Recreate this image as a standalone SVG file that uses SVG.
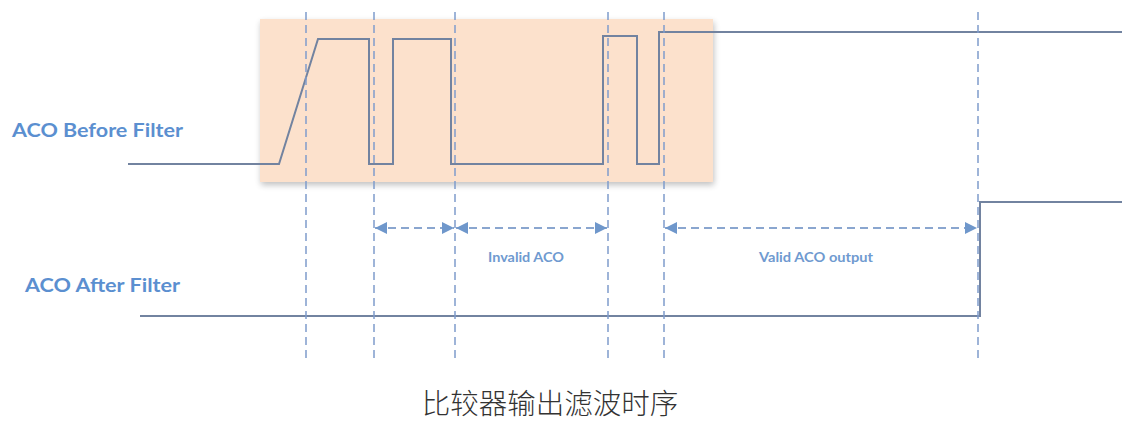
<svg xmlns="http://www.w3.org/2000/svg" width="1126" height="421" viewBox="0 0 1126 421">
<defs>
<filter id="sh" x="-5%" y="-10%" width="110%" height="125%">
<feGaussianBlur in="SourceAlpha" stdDeviation="3"/>
<feOffset dx="1" dy="3"/>
<feComponentTransfer><feFuncA type="linear" slope="0.25"/></feComponentTransfer>
<feMerge><feMergeNode/><feMergeNode in="SourceGraphic"/></feMerge>
</filter>
<marker id="ah" viewBox="0 0 10 10" refX="10" refY="5" markerWidth="12" markerHeight="12" markerUnits="userSpaceOnUse" orient="auto-start-reverse">
<path d="M0,0 L10,5 L0,10 Z" fill="#6f97cb"/>
</marker>
</defs>
<style>
.sig{fill:none;stroke:#7283a0;stroke-width:2}
.grid{stroke:#7f9ccc;stroke-width:1.5;stroke-dasharray:8 5}
.arr{stroke:#8aa6cf;stroke-width:2;stroke-dasharray:8 5;fill:none}
.lbl{font-family:Lato,"Open Sans",sans-serif;font-weight:bold;fill:#5b8fd0;font-size:19px}
.sm{font-family:Lato,"Open Sans",sans-serif;font-weight:bold;fill:#6f9ad0;font-size:13px}
.title{font-family:"Noto Sans CJK SC",sans-serif;font-weight:300;fill:#333;font-size:28.5px}
</style>
<rect width="1126" height="421" fill="#fff"/>
<g id="filter-window">
<rect x="260" y="19" width="453" height="163" fill="#fce1cc" filter="url(#sh)"/>
</g>
<g id="label-before"><text class="lbl" x="12" y="137" textLength="171" lengthAdjust="spacingAndGlyphs">ACO Before Filter</text></g>
<g id="label-after"><text class="lbl" x="25" y="292" textLength="155" lengthAdjust="spacingAndGlyphs">ACO After Filter</text></g>
<g id="signal-before">
<polyline class="sig" points="128,164 279,164 318,39 369,39 369,164 393,164 393,39 451,39 451,164 603,164 603,36 637,36 637,164 659,164 659,32 1122,32"/>
</g>
<g id="signal-after">
<polyline class="sig" points="140,316 980,316 980,202 1122,202"/>
</g>
<g id="grid">
<line class="grid" x1="306" y1="12" x2="306" y2="358"/>
<line class="grid" x1="374" y1="12" x2="374" y2="358"/>
<line class="grid" x1="455" y1="12" x2="455" y2="358"/>
<line class="grid" x1="608" y1="12" x2="608" y2="358"/>
<line class="grid" x1="664" y1="12" x2="664" y2="358"/>
<line class="grid" x1="978" y1="12" x2="978" y2="358"/>
</g>
<g id="connectors">
<line class="arr" x1="375" y1="228" x2="454" y2="228" marker-start="url(#ah)" marker-end="url(#ah)"/>
<line class="arr" x1="456" y1="228" x2="607" y2="228" marker-start="url(#ah)" marker-end="url(#ah)"/>
<line class="arr" x1="665" y1="228" x2="977" y2="228" marker-start="url(#ah)" marker-end="url(#ah)"/>
</g>
<g id="label-invalid"><text class="sm" x="488" y="262" textLength="76" lengthAdjust="spacingAndGlyphs">Invalid ACO</text></g>
<g id="label-valid"><text class="sm" x="759" y="262" textLength="114" lengthAdjust="spacingAndGlyphs">Valid ACO output</text></g>
<g id="title"><text class="title" x="550" y="414" text-anchor="middle">比较器输出滤波时序</text></g>
</svg>
